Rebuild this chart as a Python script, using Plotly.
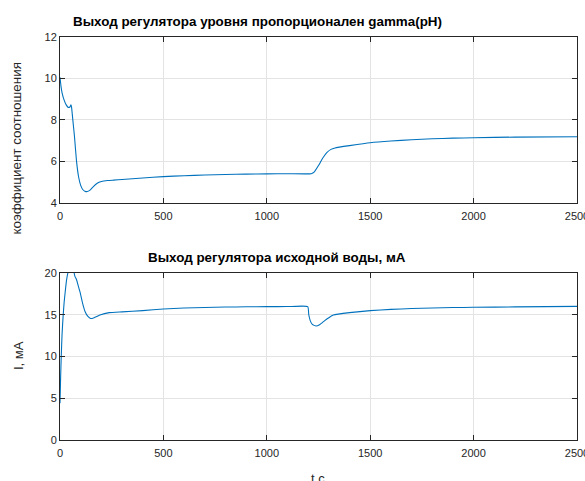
import plotly.graph_objects as go

# Ratio coefficient (level controller output), time in seconds
t_ratio = [0, 5, 10, 20, 30, 40, 48, 53, 56, 62, 70, 80, 90, 100, 110, 120, 132, 145,
           160, 180, 200, 230, 260, 300, 400, 500, 600, 700, 800, 900, 1000, 1100,
           1215, 1230, 1250, 1270, 1290, 1310, 1330, 1400, 1500, 1600, 1700, 1800,
           1900, 2000, 2200, 2500]
ratio = [10.05, 9.6, 9.3, 8.95, 8.72, 8.6, 8.62, 8.72, 8.6, 8.0, 7.2, 6.0, 5.25, 4.85,
         4.65, 4.57, 4.55, 4.62, 4.78, 4.95, 5.03, 5.08, 5.1, 5.13, 5.2, 5.27, 5.31,
         5.35, 5.37, 5.39, 5.4, 5.41, 5.41, 5.5, 5.8, 6.15, 6.42, 6.58, 6.65, 6.76,
         6.9, 6.98, 7.04, 7.09, 7.12, 7.14, 7.17, 7.19]

# Source water controller output current, mA
t_current = [0, 3, 6, 10, 15, 20, 25, 32, 40, 50, 58, 65, 72, 80, 90, 97, 110, 121,
             135, 148, 165, 193, 238, 300, 400, 500, 600, 700, 800, 900, 1000, 1100,
             1198, 1203, 1210, 1220, 1238, 1255, 1280, 1300, 1322, 1400, 1500, 1600,
             1700, 1800, 1900, 2000, 2200, 2500]
current = [4.4, 7.5, 10.0, 12.7, 14.8, 16.5, 17.7, 19.2, 20.2, 20.8, 20.8, 20.4, 19.6,
           19.2, 18.3, 17.7, 16.3, 15.4, 14.8, 14.55, 14.65, 14.97, 15.25, 15.35, 15.5,
           15.69, 15.8, 15.87, 15.92, 15.95, 15.97, 15.98, 15.98, 15.0, 14.3, 13.85,
           13.65, 13.8, 14.3, 14.65, 14.97, 15.25, 15.49, 15.64, 15.74, 15.81, 15.86,
           15.89, 15.94, 16.0]

x_ticks = [0, 500, 1000, 1500, 2000, 2500]
ratio_ticks = [4, 6, 8, 10, 12]
current_ticks = [0, 5, 10, 15, 20]

W, H = 585, 481
FONT = "Liberation Sans, Arial, sans-serif"
INK = "#262626"
LINE = "#0072BD"

fig = go.Figure()
fig.add_trace(go.Scatter(x=t_ratio, y=ratio, mode="lines", xaxis="x", yaxis="y",
                         line=dict(color=LINE, width=1.1, shape="spline", smoothing=0.4),
                         showlegend=False))
fig.add_trace(go.Scatter(x=t_current, y=current, mode="lines", xaxis="x2", yaxis="y2",
                         line=dict(color=LINE, width=1.1, shape="spline", smoothing=0.4),
                         showlegend=False))

x_dom = [60 / W, 577 / W]
top_dom = [1 - 203 / H, 1 - 36.7 / H]
bot_dom = [1 - 440 / H, 1 - 273 / H]

axis_style = dict(showline=True, linecolor=INK, linewidth=1, mirror="ticks",
                  ticks="inside", ticklen=5, tickcolor=INK, automargin=False,
                  ticklabeloverflow="allow",
                  showgrid=True, gridcolor="#e3e3e3", gridwidth=1, zeroline=False,
                  tickfont=dict(family=FONT, size=11, color=INK))
x_style = dict(axis_style, ticklabelstandoff=3)

fig.update_layout(
    width=W, height=H,
    margin=dict(l=0, r=0, t=0, b=0, pad=0),
    paper_bgcolor="white", plot_bgcolor="white",
    xaxis=dict(domain=x_dom, range=[0, 2500], tickvals=x_ticks, anchor="y", **x_style),
    yaxis=dict(domain=top_dom, range=[4, 12], tickvals=ratio_ticks, anchor="x", **axis_style),
    xaxis2=dict(domain=x_dom, range=[0, 2500], tickvals=x_ticks, anchor="y2", **x_style),
    yaxis2=dict(domain=bot_dom, range=[0, 20], tickvals=current_ticks, anchor="x2", **axis_style),
)

def px_x(v):
    return v / W

def px_y(v):
    return 1 - v / H

annotations = [
    dict(text="<b>Выход регулятора уровня пропорционален gamma(pH)</b>",
         x=px_x(71), y=px_y(21.5), xanchor="left", yanchor="middle",
         font=dict(family=FONT, size=13.4, color="black")),
    dict(text="<b>Выход регулятора исходной воды, мА</b>",
         x=px_x(145.7), y=px_y(257.5), xanchor="left", yanchor="middle",
         font=dict(family=FONT, size=13.4, color="black")),
    dict(text="коэффициент соотношения", textangle=-90,
         x=px_x(16), y=px_y(148.5), xanchor="center", yanchor="middle",
         font=dict(family=FONT, size=13.4, color=INK)),
    dict(text="I, мА", textangle=-90,
         x=px_x(18), y=px_y(356), xanchor="center", yanchor="middle",
         font=dict(family=FONT, size=13, color=INK)),
    dict(text="t,c",
         x=px_x(318), y=px_y(478), xanchor="center", yanchor="middle",
         font=dict(family=FONT, size=13, color=INK)),
]
for a in annotations:
    a.update(xref="paper", yref="paper", showarrow=False)
fig.update_layout(annotations=annotations)

fig.write_html("out.html")
